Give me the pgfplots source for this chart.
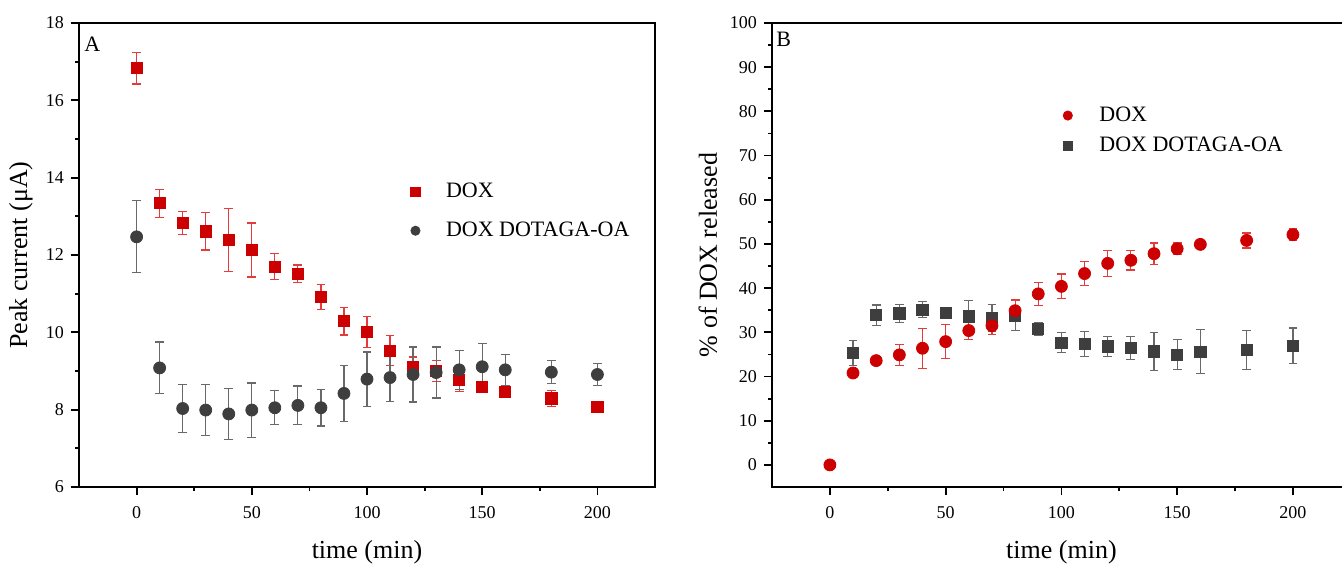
\documentclass[border=0pt]{standalone}
\usepackage{fontspec}
\setmainfont{Liberation Serif}
\usepackage{pgfplots}
\usepackage{pgfplotstable}
\pgfplotsset{compat=1.18}

\definecolor{doxred}{RGB}{204,0,0}
\definecolor{doxredbar}{RGB}{228,60,60}
\definecolor{dotgray}{RGB}{62,62,62}
\definecolor{dotgraybar}{RGB}{105,105,105}

% panel A: peak current
\pgfplotstableread{
t y e
0 16.83 0.41
10 13.34 0.36
20 12.83 0.29
30 12.61 0.48
40 12.39 0.82
50 12.13 0.70
60 11.70 0.33
70 11.51 0.23
80 10.91 0.32
90 10.29 0.36
100 10.01 0.40
110 9.53 0.39
120 9.11 0.25
130 9.00 0.27
140 8.78 0.30
150 8.59 0.10
160 8.46 0.08
180 8.29 0.20
200 8.08 0.05
}\currdox
\pgfplotstableread{
t y e
0 12.47 0.93
10 9.08 0.67
20 8.03 0.62
30 7.99 0.66
40 7.89 0.66
50 7.99 0.70
60 8.05 0.44
70 8.11 0.50
80 8.05 0.47
90 8.42 0.72
100 8.79 0.70
110 8.83 0.62
120 8.91 0.71
130 8.96 0.66
140 9.03 0.50
150 9.11 0.60
160 9.03 0.40
180 8.97 0.30
200 8.91 0.29
}\currdot
% panel B: release
\pgfplotstableread{
t y e
0 0.0 0.3
10 20.8 1.0
20 23.6 0.7
30 24.9 2.4
40 26.4 4.5
50 27.9 3.8
60 30.4 2.0
70 31.5 2.0
80 34.9 2.4
90 38.7 2.6
100 40.4 2.8
110 43.3 2.7
120 45.6 3.0
130 46.3 2.2
140 47.8 2.4
150 48.9 1.3
160 49.9 0.7
180 50.8 1.7
200 52.1 1.3
}\reldox
\pgfplotstableread{
t y e
10 25.3 2.8
20 33.9 2.3
30 34.3 2.0
40 35.1 1.8
50 34.4 1.0
60 33.6 3.6
70 33.2 3.1
80 33.8 3.4
90 30.7 1.5
100 27.7 2.3
110 27.4 2.8
120 26.8 2.2
130 26.4 2.6
140 25.7 4.3
150 24.9 3.4
160 25.6 5.0
180 26.0 4.5
200 27.0 4.0
}\reldot

\pgfplotsset{
    panel/.style={
        scale only axis,
        height=232pt,
        axis line style={line width=0.9pt},
        tick pos=left,
        tick align=outside,
        major tick length=4pt,
        minor tick length=2pt,
        every tick/.style={line width=0.9pt, black},
        xticklabel={\pgfmathprintnumber[assume math mode=true]{\tick}},
        yticklabel={\pgfmathprintnumber[assume math mode=true]{\tick}},
        tick label style={font=\fontsize{9}{10}\selectfont},
        xticklabel style={yshift=-2pt},
        label style={font=\fontsize{13}{15}\selectfont},
        xtick={0,50,100,150,200},
        minor x tick num=1,
        xmin=-25,
        legend cell align=left,
        legend image post style={mark size=2.3pt},
    },
    errs/.style={
        only marks,
        error bars/y dir=both,
        error bars/y explicit,
        error bars/error bar style={line width=0.6pt, color=#1},
        error bars/error mark options={rotate=90, mark size=2.2pt, line width=0.6pt, color=#1},
    },
}

\begin{document}
\begin{tikzpicture}
    \begin{axis}[
        panel,
        width=288pt,
        xmax=225,
        ymin=6, ymax=18,
        ytick={6,8,...,18},
        minor y tick num=1,
        xlabel={time (min)},
        ylabel={Peak current (μA)},
        xlabel style={at={(axis description cs:0.5,-0.14)}, anchor=center},
        ylabel style={at={(axis description cs:-0.1007,0.5)}, anchor=center},
        legend style={draw=none, fill=none, font=\fontsize{11}{13}\selectfont,
            at={(axis cs:120.6,13.63)}, anchor=north west,
            xshift=-5pt, yshift=8.5pt, row sep=6.5pt, column sep=11pt},
    ]
        \addplot[errs=doxredbar, mark=square*, mark size=2.8pt,
            mark options={fill=doxred, draw=doxred}]
            table[x=t, y=y, y error=e] {\currdox};
        \addlegendentry{DOX}
        \addplot[errs=dotgraybar, mark=*, mark size=3pt,
            mark options={fill=dotgray, draw=dotgray}]
            table[x=t, y=y, y error=e] {\currdot};
        \addlegendentry{DOX DOTAGA-OA}
        \node[anchor=north west, inner sep=0pt, font=\fontsize{11}{13}\selectfont]
            at (rel axis cs:0,1) [xshift=2.5pt, yshift=-7pt] {A};
    \end{axis}

    \begin{axis}[
        panel,
        at={(346.5pt,0pt)},
        width=289.4pt,
        xmax=225,
        ymin=-5, ymax=100,
        ytick={0,10,...,100},
        minor y tick num=1,
        xlabel={time (min)},
        ylabel={\% of DOX released},
        xlabel style={at={(axis description cs:0.5,-0.14)}, anchor=center},
        ylabel style={at={(axis description cs:-0.1106,0.5)}, anchor=center},
        reverse legend,
        legend style={draw=none, fill=none, font=\fontsize{11}{13}\selectfont,
            at={(axis cs:103.2,79.1)}, anchor=north west,
            xshift=-6pt, yshift=8.5pt, row sep=2.5pt, column sep=11.5pt},
    ]
        \addplot[errs=dotgraybar, mark=square*, mark size=2.8pt,
            mark options={fill=dotgray, draw=dotgray}]
            table[x=t, y=y, y error=e] {\reldot};
        \addlegendentry{DOX DOTAGA-OA}
        \addplot[errs=doxredbar, mark=*, mark size=3pt,
            mark options={fill=doxred, draw=doxred}]
            table[x=t, y=y, y error=e] {\reldox};
        \addlegendentry{DOX}
        \node[anchor=north west, inner sep=0pt, font=\fontsize{11}{13}\selectfont]
            at (rel axis cs:0,1) [xshift=2pt, yshift=-4.5pt] {B};
    \end{axis}

    \pgfresetboundingbox
    \path[use as bounding box] (-39.5pt,-38pt) rectangle (631.5pt,243.5pt);
\end{tikzpicture}
\end{document}
